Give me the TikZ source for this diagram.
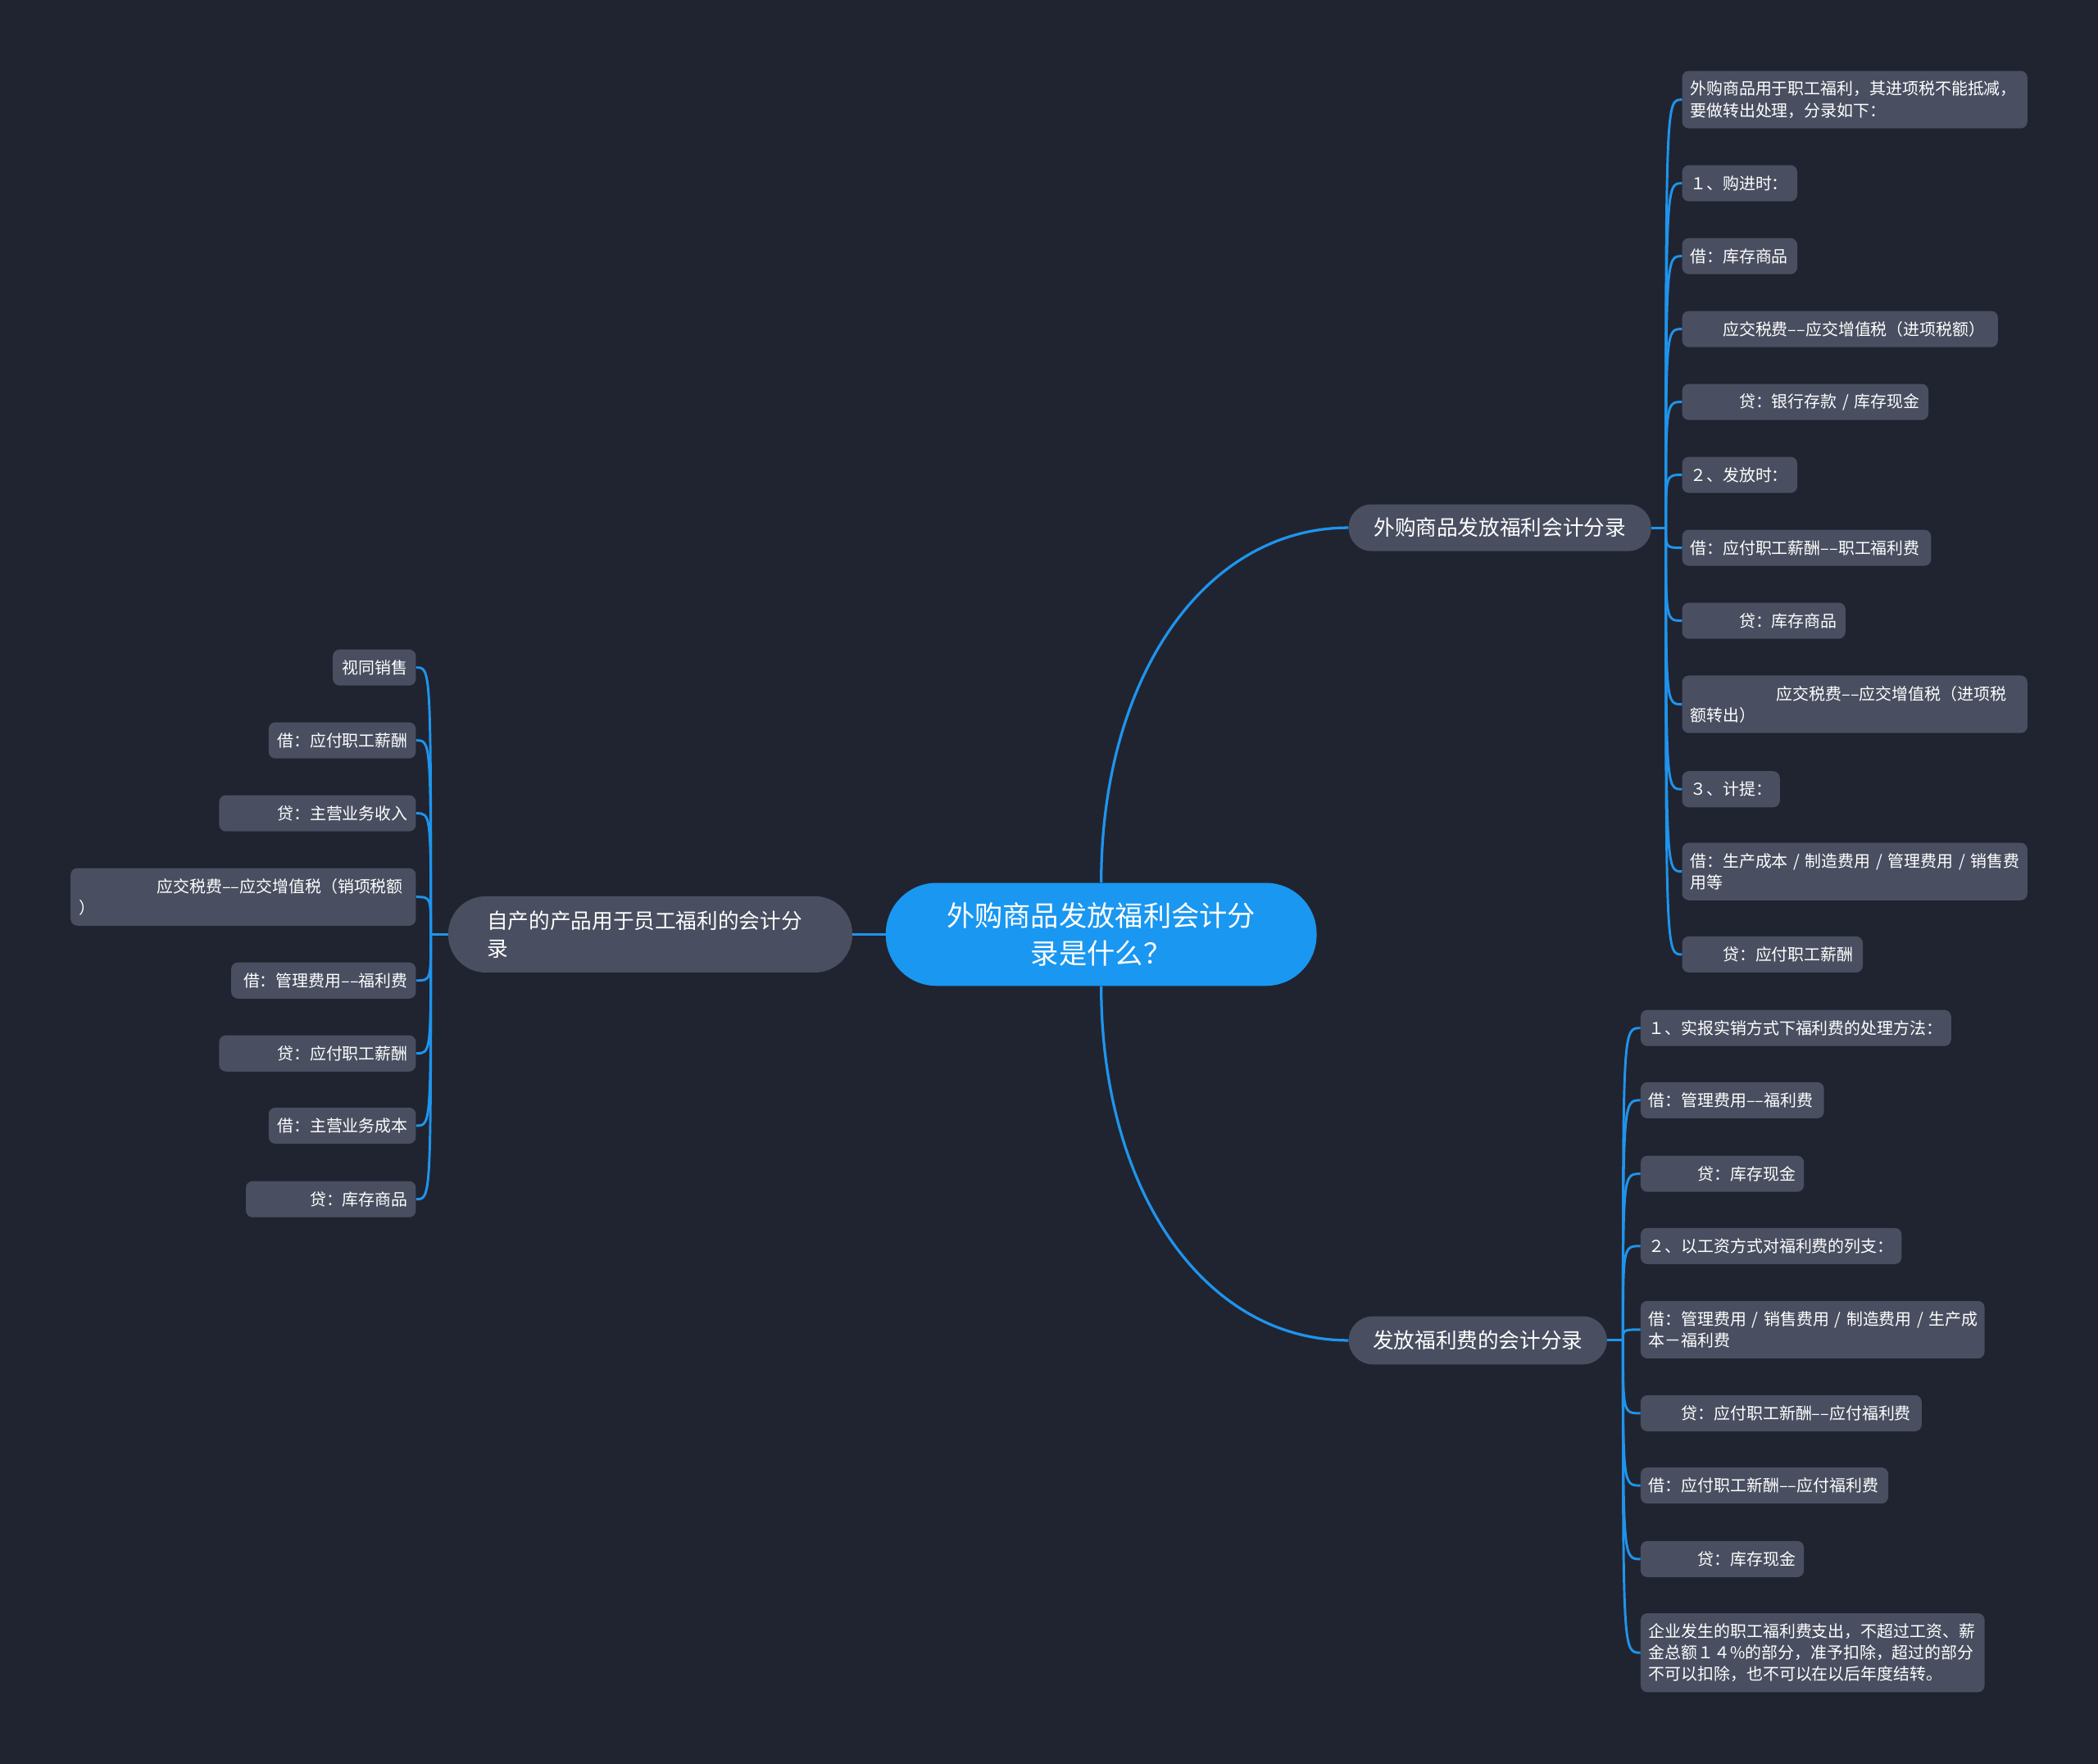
\documentclass[tikz,border=0pt]{standalone}
\usepackage{fontspec}
\setmainfont{Noto Sans CJK SC}
\definecolor{bgnavy}{RGB}{32,36,48}
\definecolor{topicgray}{RGB}{73,79,96}
\definecolor{mapblue}{RGB}{31,148,236}
\definecolor{rootblue}{RGB}{26,151,240}
\begin{document}
\begin{tikzpicture}[x=1pt, y=-1pt,
  leaf/.style={fill=topicgray, text=white, rounded corners=5pt, inner xsep=6pt, inner ysep=2pt,
    align=left, minimum height=27pt, font=\fontsize{12.2}{16}\selectfont},
  leaftwo/.style={leaf, minimum height=43pt},
  leafthree/.style={leaf, minimum height=59pt},
  topic/.style={fill=topicgray, text=white, font=\fontsize{15.7}{21}\selectfont},
  link/.style={draw=mapblue, line width=1.8pt}]
  % Background
  \useasboundingbox (0,0) rectangle (1568,1318.7);
  \fill[bgnavy] (-2,-2) rectangle (1570,1321);

  % Central topic and main branches
  \node[fill=rootblue, text=white, align=center, font=\fontsize{21}{28}\selectfont,
    minimum width=322pt, minimum height=77pt, rounded corners=38pt] (root) at (823,698.5)
    {外购商品发放福利会计分\\录是什么？};
  \node[topic, minimum width=226pt, minimum height=35pt, rounded corners=17pt] (buy) at (1121,394.5) {外购商品发放福利会计分录};
  \node[topic, minimum width=193pt, minimum height=36pt, rounded corners=18pt] (give) at (1104.5,1002) {发放福利费的会计分录};
  \node[topic, align=left, text width=244pt, inner xsep=29pt, minimum height=57pt, rounded corners=28pt] (self) at (486,698.5)
    {自产的产品用于员工福利的会计分\\录};

  \draw[link, line width=2pt] (root.north) .. controls +(0,-154) and +(-107,0) .. (buy.west);
  \draw[link, line width=2pt] (root.south) .. controls +(0,154) and +(-107,0) .. (give.west);
  \draw[link, line width=2pt] (root.west) -- (self.east);

  % Purchased goods
  \node[leaftwo, text width=246pt, anchor=west] (r1) at (1257,74.5) {外购商品用于职工福利，其进项税不能抵减，\\要做转出处理，分录如下：};
  \node[leaf, text width=74pt, anchor=west] (r2) at (1257,137) {１、购进时：};
  \node[leaf, text width=74pt, anchor=west] (r3) at (1257,191.5) {借：库存商品};
  \node[leaf, text width=224pt, anchor=west] (r4) at (1257,246) {\hspace*{2em}应交税费––应交增值税（进项税额）};
  \node[leaf, text width=172pt, anchor=west] (r5) at (1257,300.5) {\hspace*{3em}贷：银行存款~/~库存现金};
  \node[leaf, text width=74pt, anchor=west] (r6) at (1257,355) {２、发放时：};
  \node[leaf, text width=174pt, anchor=west] (r7) at (1257,409.5) {借：应付职工薪酬––职工福利费};
  \node[leaf, text width=110pt, anchor=west] (r8) at (1257,464) {\hspace*{3em}贷：库存商品};
  \node[leaftwo, text width=246pt, anchor=west] (r9) at (1257,526.5) {\hspace*{5.3em}应交税费––应交增值税（进项税\\额转出）};
  \node[leaf, text width=61pt, anchor=west] (r10) at (1257,590) {３、计提：};
  \node[leaftwo, text width=246pt, anchor=west] (r11) at (1257,651.5) {借：生产成本~/~制造费用~/~管理费用~/~销售费\\用等};
  \node[leaf, text width=123pt, anchor=west] (r12) at (1257,713.5) {\hspace*{2em}贷：应付职工薪酬};

  \coordinate (j1) at (1245,394.5);
  \draw[link] (buy.east) -- (j1);
  \draw[link] (j1) .. controls (j1 |- r1.west) .. (r1.west);
  \draw[link] (j1) .. controls (j1 |- r2.west) .. (r2.west);
  \draw[link] (j1) .. controls (j1 |- r3.west) .. (r3.west);
  \draw[link] (j1) .. controls (j1 |- r4.west) .. (r4.west);
  \draw[link] (j1) .. controls (j1 |- r5.west) .. (r5.west);
  \draw[link] (j1) .. controls (j1 |- r6.west) .. (r6.west);
  \draw[link] (j1) .. controls (j1 |- r7.west) .. (r7.west);
  \draw[link] (j1) .. controls (j1 |- r8.west) .. (r8.west);
  \draw[link] (j1) .. controls (j1 |- r9.west) .. (r9.west);
  \draw[link] (j1) .. controls (j1 |- r10.west) .. (r10.west);
  \draw[link] (j1) .. controls (j1 |- r11.west) .. (r11.west);
  \draw[link] (j1) .. controls (j1 |- r12.west) .. (r12.west);

  % Welfare expense
  \node[leaf, text width=220pt, anchor=west] (b1) at (1226,768.5) {１、实报实销方式下福利费的处理方法：};
  \node[leaf, text width=125pt, anchor=west] (b2) at (1226,822.5) {借：管理费用––福利费};
  \node[leaf, text width=110pt, anchor=west] (b3) at (1226,877.5) {\hspace*{3em}贷：库存现金};
  \node[leaf, text width=183pt, anchor=west] (b4) at (1226,931.5) {２、以工资方式对福利费的列支：};
  \node[leaftwo, text width=245pt, anchor=west] (b5) at (1226,994) {借：管理费用~/~销售费用~/~制造费用~/~生产成\\本－福利费};
  \node[leaf, text width=198pt, anchor=west] (b6) at (1226,1056.5) {\hspace*{2em}贷：应付职工新酬––应付福利费};
  \node[leaf, text width=173pt, anchor=west] (b7) at (1226,1110.5) {借：应付职工新酬––应付福利费};
  \node[leaf, text width=110pt, anchor=west] (b8) at (1226,1165.5) {\hspace*{3em}贷：库存现金};
  \node[leafthree, text width=245pt, anchor=west] (b9) at (1226,1235.5) {企业发生的职工福利费支出，不超过工资、薪\\金总额１４\%的部分，准予扣除，超过的部分\\不可以扣除，也不可以在以后年度结转。};

  \coordinate (j2) at (1213,1002);
  \draw[link] (give.east) -- (j2);
  \draw[link] (j2) .. controls (j2 |- b1.west) .. (b1.west);
  \draw[link] (j2) .. controls (j2 |- b2.west) .. (b2.west);
  \draw[link] (j2) .. controls (j2 |- b3.west) .. (b3.west);
  \draw[link] (j2) .. controls (j2 |- b4.west) .. (b4.west);
  \draw[link] (j2) .. controls (j2 |- b5.west) .. (b5.west);
  \draw[link] (j2) .. controls (j2 |- b6.west) .. (b6.west);
  \draw[link] (j2) .. controls (j2 |- b7.west) .. (b7.west);
  \draw[link] (j2) .. controls (j2 |- b8.west) .. (b8.west);
  \draw[link] (j2) .. controls (j2 |- b9.west) .. (b9.west);

  % Own products
  \node[leaf, text width=50pt, align=right, anchor=east] (l1) at (311,499) {视同销售};
  \node[leaf, text width=98pt, align=right, anchor=east] (l2) at (311,553.5) {借：应付职工薪酬};
  \node[leaf, text width=135pt, align=right, anchor=east] (l3) at (311,608) {贷：主营业务收入};
  \node[leaftwo, text width=246pt, anchor=east] (l4) at (311,670.5) {\hspace*{4.8em}应交税费––应交增值税（销项税额\\）};
  \node[leaf, text width=126pt, align=right, anchor=east] (l5) at (311,733) {借：管理费用––福利费};
  \node[leaf, text width=135pt, align=right, anchor=east] (l6) at (311,787.5) {贷：应付职工薪酬};
  \node[leaf, text width=98pt, align=right, anchor=east] (l7) at (311,841.5) {借：主营业务成本};
  \node[leaf, text width=115pt, align=right, anchor=east] (l8) at (311,896.5) {贷：库存商品};

  \coordinate (j3) at (322,698.5);
  \draw[link] (self.west) -- (j3);
  \draw[link] (j3) .. controls (j3 |- l1.east) .. (l1.east);
  \draw[link] (j3) .. controls (j3 |- l2.east) .. (l2.east);
  \draw[link] (j3) .. controls (j3 |- l3.east) .. (l3.east);
  \draw[link] (j3) .. controls (j3 |- l4.east) .. (l4.east);
  \draw[link] (j3) .. controls (j3 |- l5.east) .. (l5.east);
  \draw[link] (j3) .. controls (j3 |- l6.east) .. (l6.east);
  \draw[link] (j3) .. controls (j3 |- l7.east) .. (l7.east);
  \draw[link] (j3) .. controls (j3 |- l8.east) .. (l8.east);
\end{tikzpicture}
\end{document}
